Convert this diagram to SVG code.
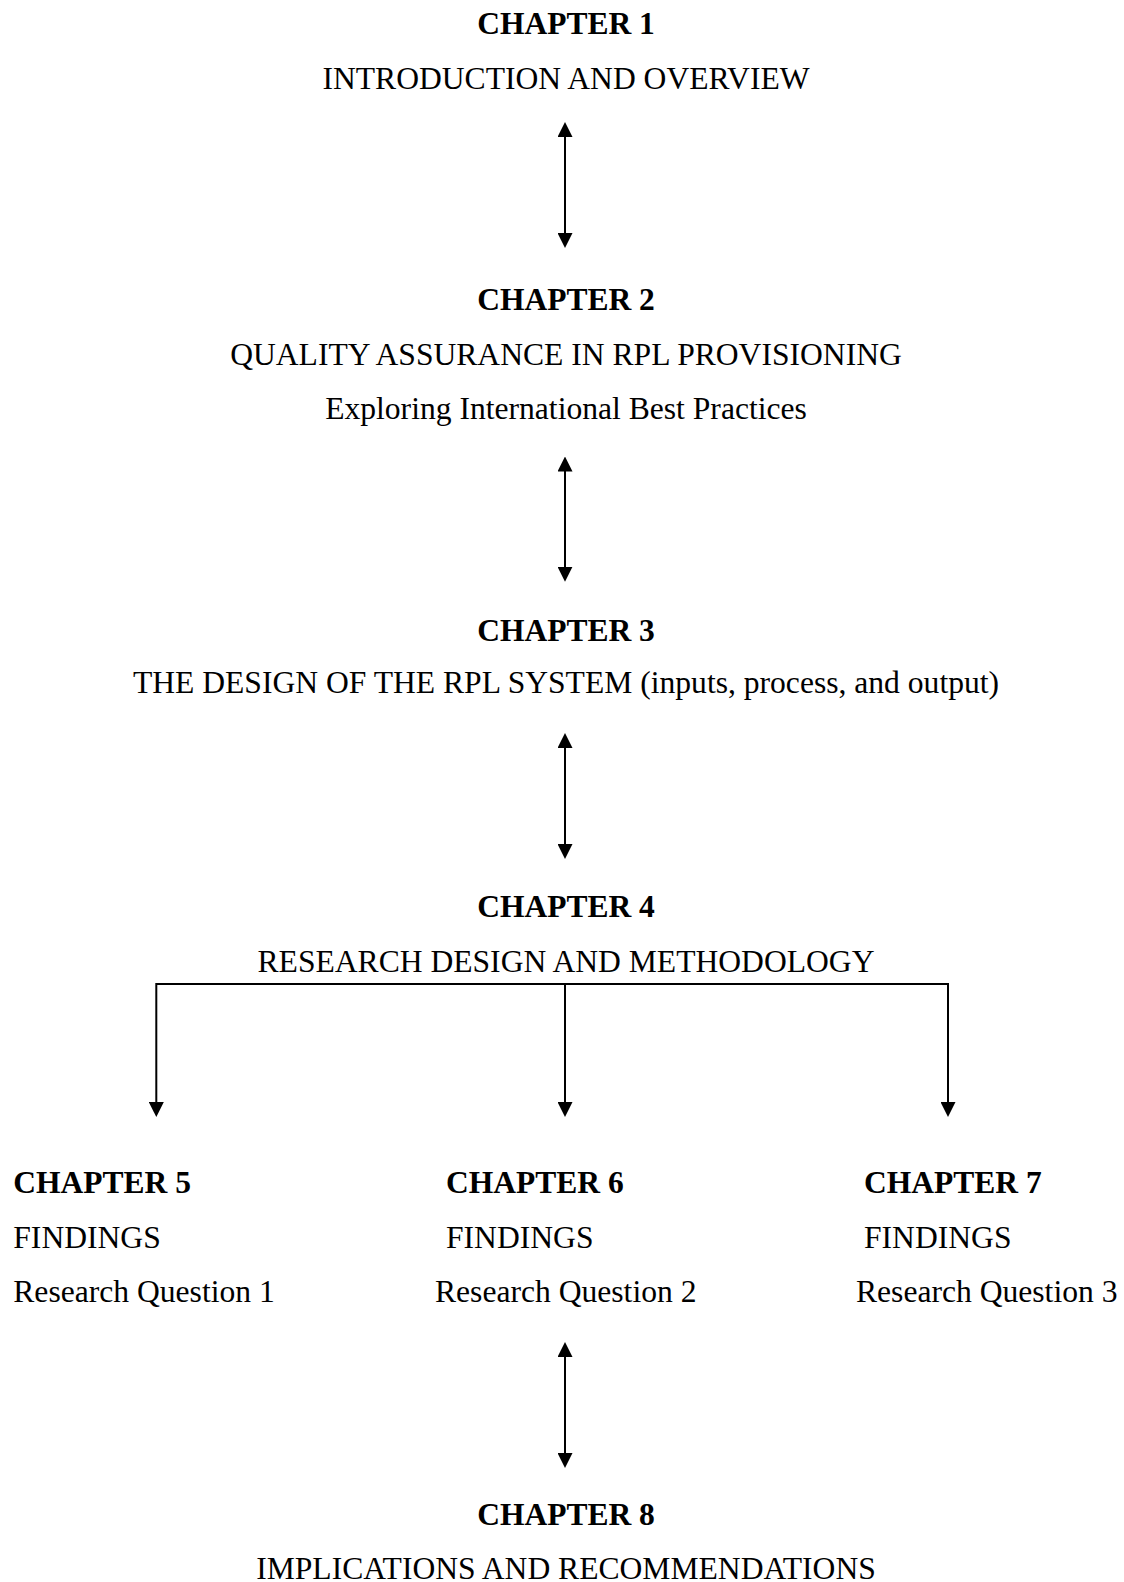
<svg xmlns="http://www.w3.org/2000/svg" width="1124" height="1582" viewBox="0 0 1124 1582">
<style>
text{font-family:"Liberation Serif","Times New Roman",serif;fill:#000;font-size:31.6px}
.b{font-weight:bold;font-size:31.5px}
.c{text-anchor:middle}
.ln{stroke:#000;stroke-width:2;fill:none}
</style>
<defs>
<marker id="ah" viewBox="0 0 15 15" refX="5" refY="7.5" markerWidth="15" markerHeight="15" markerUnits="userSpaceOnUse" orient="auto-start-reverse">
<path d="M0,0 L15,7.5 L0,15 z" fill="#000"/>
</marker>
</defs>
<rect width="1124" height="1582" fill="#fff"/>
<g id="ch1">
<text class="b c" x="566" y="34.3">CHAPTER 1</text>
<text class="c" x="566" y="89.3">INTRODUCTION AND OVERVIEW</text>
</g>
<g id="ch2">
<text class="b c" x="566" y="310">CHAPTER 2</text>
<text class="c" x="566" y="365">QUALITY ASSURANCE IN RPL PROVISIONING</text>
<text class="c" x="566" y="418.5">Exploring International Best Practices</text>
</g>
<g id="ch3">
<text class="b c" x="566" y="641">CHAPTER 3</text>
<text class="c" x="566" y="693.3">THE DESIGN OF THE RPL SYSTEM (inputs, process, and output)</text>
</g>
<g id="ch4">
<text class="b c" x="566" y="916.7">CHAPTER 4</text>
<text class="c" x="566" y="971.7">RESEARCH DESIGN AND METHODOLOGY</text>
</g>
<g id="ch5">
<text class="b" x="13.3" y="1192.7">CHAPTER 5</text>
<text x="13.3" y="1248.3">FINDINGS</text>
<text x="13.3" y="1301.7">Research Question 1</text>
</g>
<g id="ch6">
<text class="b" x="446" y="1192.7">CHAPTER 6</text>
<text x="446" y="1248.3">FINDINGS</text>
<text x="435" y="1301.7">Research Question 2</text>
</g>
<g id="ch7">
<text class="b" x="864" y="1192.7">CHAPTER 7</text>
<text x="864" y="1248.3">FINDINGS</text>
<text x="856" y="1301.7">Research Question 3</text>
</g>
<g id="ch8">
<text class="b c" x="566" y="1525">CHAPTER 8</text>
<text class="c" x="566" y="1579">IMPLICATIONS AND RECOMMENDATIONS</text>
</g>
<g id="connectors">
<line class="ln" x1="565" y1="132" x2="565" y2="238" marker-start="url(#ah)" marker-end="url(#ah)"/>
<line class="ln" x1="565" y1="466.5" x2="565" y2="571.7" marker-start="url(#ah)" marker-end="url(#ah)"/>
<line class="ln" x1="565" y1="743" x2="565" y2="849" marker-start="url(#ah)" marker-end="url(#ah)"/>
<line class="ln" x1="565" y1="1352" x2="565" y2="1458" marker-start="url(#ah)" marker-end="url(#ah)"/>
<path class="ln" d="M156.3,1107 V984 H948 V1107" marker-start="url(#ah)" marker-end="url(#ah)"/>
<path class="ln" d="M565,984 V1107" marker-end="url(#ah)"/>
</g>
</svg>
